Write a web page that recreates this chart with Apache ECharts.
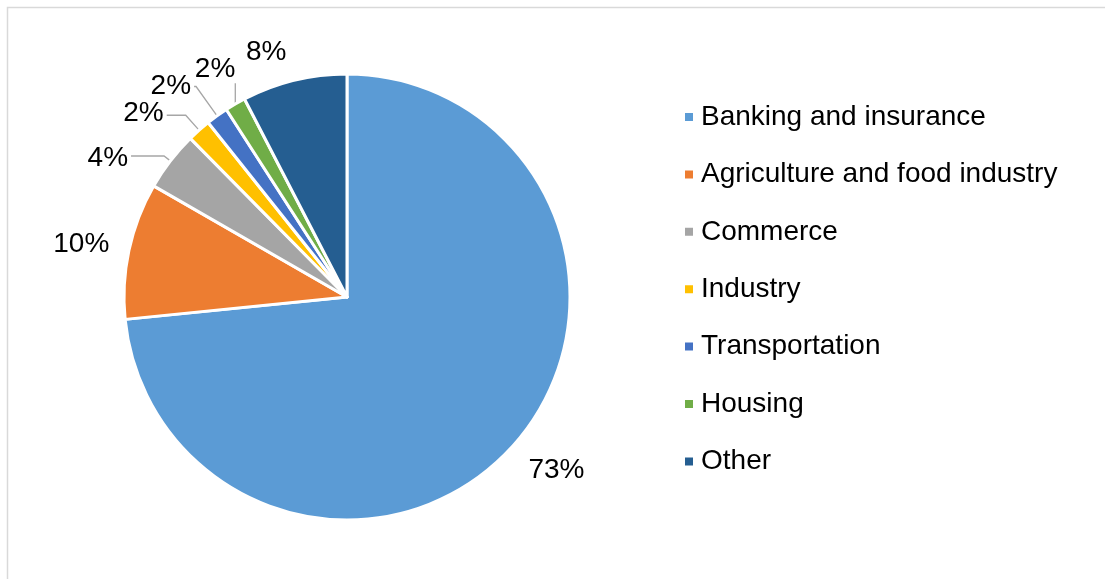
<!DOCTYPE html>
<html>
<head>
<meta charset="utf-8">
<script src="https://cdn.jsdelivr.net/npm/echarts@6/dist/echarts.min.js"></script>
<style>
html,body{margin:0;padding:0;background:#fff;}
#chart{width:1105px;height:579px;}
</style>
</head>
<body>
<div id="chart"></div>
<script>
const categories = ["Banking and insurance","Agriculture and food industry","Commerce","Industry","Transportation","Housing","Other"];
const values = [73.4, 9.9, 4.3, 1.7, 1.6, 1.5, 7.6];
const colors = ["#5B9BD5","#ED7D31","#A5A5A5","#FFC000","#4472C4","#70AD47","#255E91"];
// leader line config per slice: [length, length2, showLine]
const leaderLengths = [[27,0,false],[17,0,false],[8,33,true],[20,19,true],[36,2,true],[24,0,true],[29,0,false]];
// per-slice label style tweaks: vertical leader with text above (Excel style)
const verticalLeader = [false,false,false,false,false,true,false];
const labelNudge = [[-7,6],[0,-3],[0,2],[0,-2],[0,0],[0,0],[2,0]];

const chart = echarts.init(document.getElementById('chart'));
const data = categories.map((c,i)=>({
  name: c,
  value: values[i],
  itemStyle: {color: colors[i]},
  labelLine: {show: leaderLengths[i][2], length: leaderLengths[i][0], length2: leaderLengths[i][1]}
}));
chart.setOption({
  animation: false,
  graphic: [{
    type: 'rect', silent: true,
    shape: {x: 7.5, y: 7.5, width: 3000, height: 3000},
    style: {fill: 'none', stroke: '#d9d9d9', lineWidth: 1.5}
  }],
  legend: {
    orient: 'vertical',
    left: 683, top: 103,
    padding: 0,
    itemWidth: 10, itemHeight: 10,
    itemGap: 29.4,
    icon: 'rect',
    textStyle: {fontFamily: 'Liberation Sans', fontSize: 28, lineHeight: 28, color: '#000', padding: [0,0,0,2]},
    data: categories
  },
  series: [{
    type: 'pie',
    center: [347, 297],
    radius: 223,
    startAngle: 90,
    clockwise: true,
    avoidLabelOverlap: false,
    itemStyle: {borderColor: '#fff', borderWidth: 3},
    label: {
      show: true, position: 'outside',
      fontFamily: 'Liberation Sans', fontSize: 28, color: '#000',
      distanceToLabelLine: 3,
      formatter: p => Math.round(p.value) + '%'
    },
    labelLine: {lineStyle: {color: '#a6a6a6', width: 1.3}},
    labelLayout: function (p) {
      const i = p.dataIndex;
      const pts = p.labelLinePoints;
      if (verticalLeader[i] && pts) {
        const x0 = pts[0][0], y0 = pts[0][1], y3 = pts[2][1];
        return {
          x: x0, y: y3, align: 'right', verticalAlign: 'bottom', hideOverlap: false,
          labelLinePoints: [[x0, y0], [x0, y3], [x0, y3]]
        };
      }
      return {dx: labelNudge[i][0], dy: labelNudge[i][1], hideOverlap: false};
    },
    emphasis: {disabled: true},
    data: data
  }]
});
</script>
</body>
</html>
